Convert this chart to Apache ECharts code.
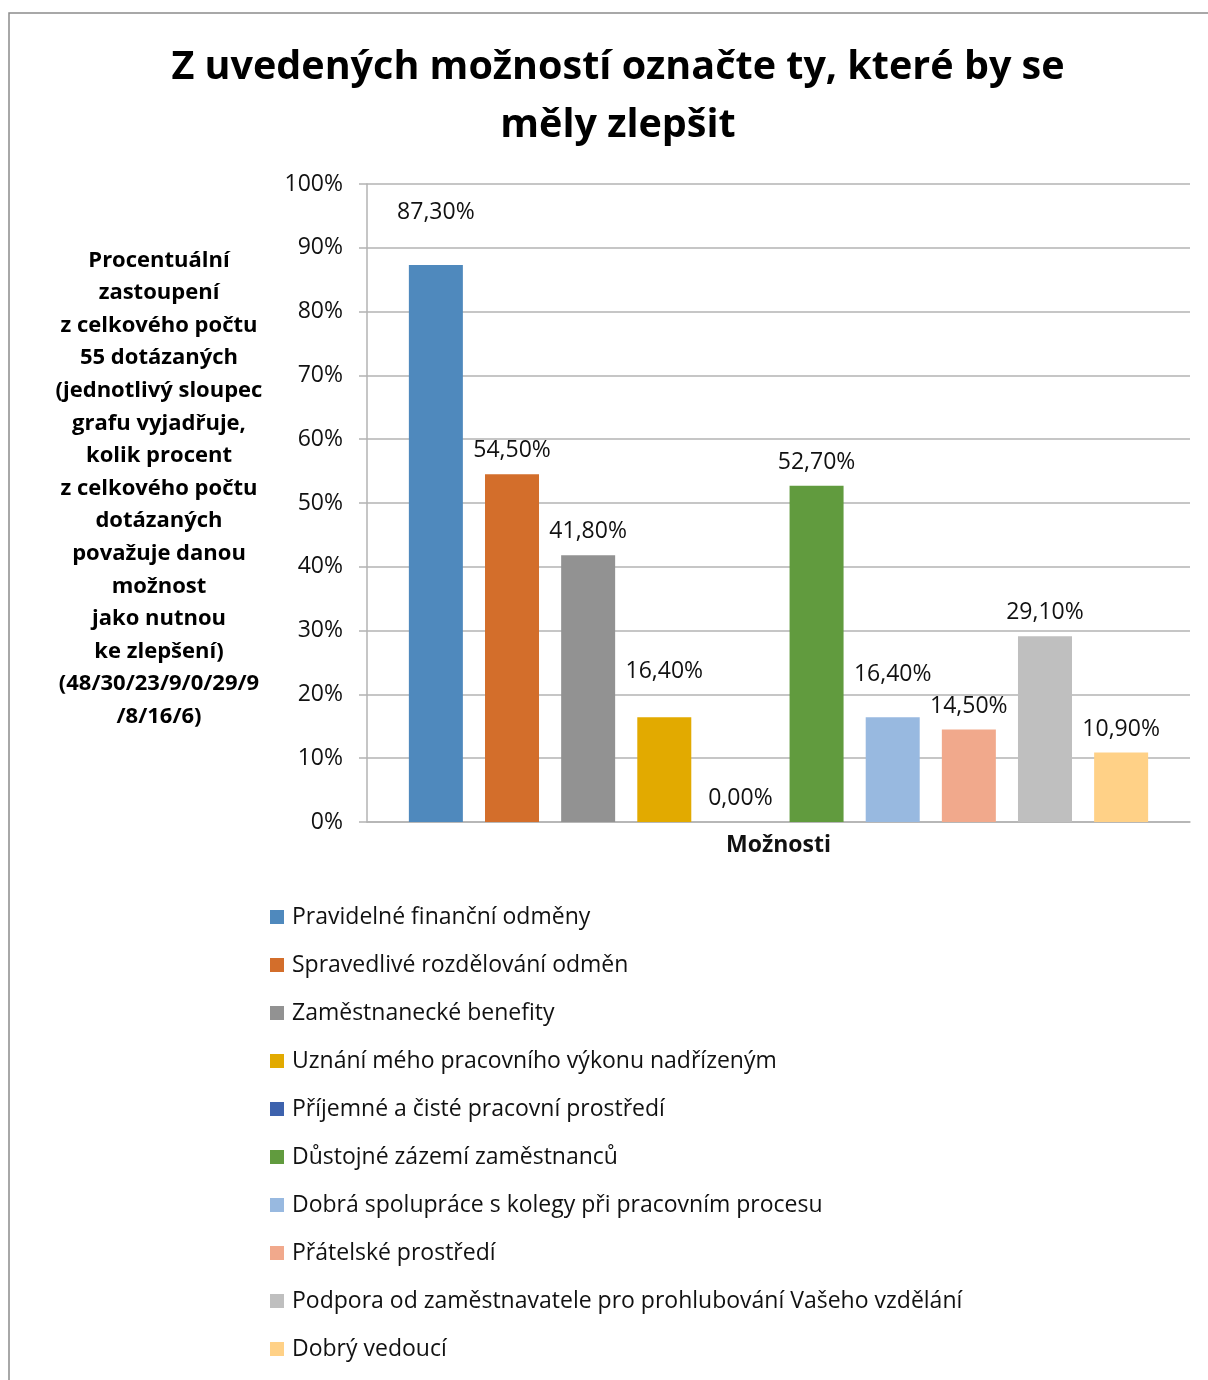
<!DOCTYPE html>
<html lang="cs">
<head>
    <meta charset="UTF-8">
    <title>Z uvedených možností označte ty, které by se měly zlepšit</title>
    <script src="https://cdn.jsdelivr.net/npm/echarts@6/dist/echarts.min.js"></script>
    <style>
        * { margin: 0; padding: 0; box-sizing: border-box; }
        body { background: #ffffff; }
        #chart { width: 1208px; height: 1380px; }
    </style>
</head>
<body>
    <div id="chart"></div>
    <script>
        // data
        const categories = ['Možnosti'];
        const options = [
            'Pravidelné finanční odměny',
            'Spravedlivé rozdělování odměn',
            'Zaměstnanecké benefity',
            'Uznání mého pracovního výkonu nadřízeným',
            'Příjemné a čisté pracovní prostředí',
            'Důstojné zázemí zaměstnanců',
            'Dobrá spolupráce s kolegy při pracovním procesu',
            'Přátelské prostředí',
            'Podpora od zaměstnavatele pro prohlubování Vašeho vzdělání',
            'Dobrý vedoucí'
        ];
        const percents = [87.3, 54.5, 41.8, 16.4, 0, 52.7, 16.4, 14.5, 29.1, 10.9];
        const yTicks = [0, 10, 20, 30, 40, 50, 60, 70, 80, 90, 100];

        const colors = ['#4f89bd', '#d36e2b', '#929292', '#e2aa00', '#3d62ad',
                        '#619b3e', '#98b9e0', '#f1a98c', '#bfbfbf', '#ffd187'];
        // labels moved by hand in the original
        const labelLift = { 0: 29, 3: 22, 6: 19 };

        const yAxisTitle = [
            'Procentuální', 'zastoupení', 'z celkového počtu', '55 dotázaných',
            '(jednotlivý sloupec', 'grafu vyjadřuje,', 'kolik procent',
            'z celkového počtu', 'dotázaných', 'považuje danou', 'možnost',
            'jako nutnou', 'ke zlepšení)', '(48/30/23/9/0/29/9', '/8/16/6)'
        ].join('\n');

        const font = "'Open Sans', 'Noto Sans', sans-serif";

        const series = options.map((name, i) => ({
            name: name,
            type: 'bar',
            data: [percents[i]],
            barWidth: 54,
            barGap: '41%',
            itemStyle: { color: colors[i] },
            label: {
                show: true,
                position: 'top',
                distance: 12 + (labelLift[i] || 0),
                fontFamily: font,
                fontSize: 23,
                color: '#111',
                formatter: p => p.value.toFixed(2).replace('.', ',') + '%'
            }
        }));

        const chart = echarts.init(document.getElementById('chart'));
        chart.setOption({
            animation: false,
            textStyle: { fontFamily: font },
            title: {
                text: 'Z uvedených možností označte ty, které by se\nměly zlepšit',
                left: 613,
                top: 34,
                textAlign: 'center',
                textStyle: { fontSize: 39.5, fontWeight: 'bold', color: '#000', lineHeight: 58, fontFamily: font }
            },
            graphic: [
                {
                    type: 'rect',
                    shape: { x: 9, y: 13, width: 1400, height: 1500 },
                    style: { fill: 'none', stroke: '#8c8c8c', lineWidth: 1.5 },
                    silent: true
                },
                {
                    type: 'text',
                    x: 159,
                    y: 244,
                    style: {
                        text: yAxisTitle,
                        align: 'center',
                        fontFamily: font,
                        fontSize: 22,
                        fontWeight: 'bold',
                        lineHeight: 32.6,
                        fill: '#000'
                    }
                }
            ],
            legend: {
                orient: 'vertical',
                left: 270,
                top: 905,
                padding: 0,
                itemWidth: 14,
                itemHeight: 14,
                itemGap: 24,
                icon: 'rect',
                textStyle: { fontSize: 23, lineHeight: 24, color: '#111', fontFamily: font, padding: [0, 0, 0, 3] }
            },
            grid: { left: 367, right: 18, top: 184, bottom: 558 },
            xAxis: {
                type: 'category',
                data: categories,
                axisLine: { lineStyle: { color: '#b3b3b3', width: 1.5 } },
                axisTick: { show: false },
                axisLabel: { fontSize: 23, fontWeight: 'bold', color: '#111', margin: 12, fontFamily: font }
            },
            yAxis: {
                type: 'value',
                min: yTicks[0],
                max: yTicks[yTicks.length - 1],
                interval: 10,
                axisLine: { show: true, lineStyle: { color: '#b3b3b3', width: 1.5 } },
                axisTick: { show: true, length: 8, lineStyle: { color: '#b3b3b3', width: 1.5 } },
                splitLine: { lineStyle: { color: '#b3b3b3', width: 1.5 } },
                axisLabel: { fontSize: 23, color: '#111', margin: 24, formatter: '{value}%', fontFamily: font }
            },
            series: series
        });
    </script>
</body>
</html>
